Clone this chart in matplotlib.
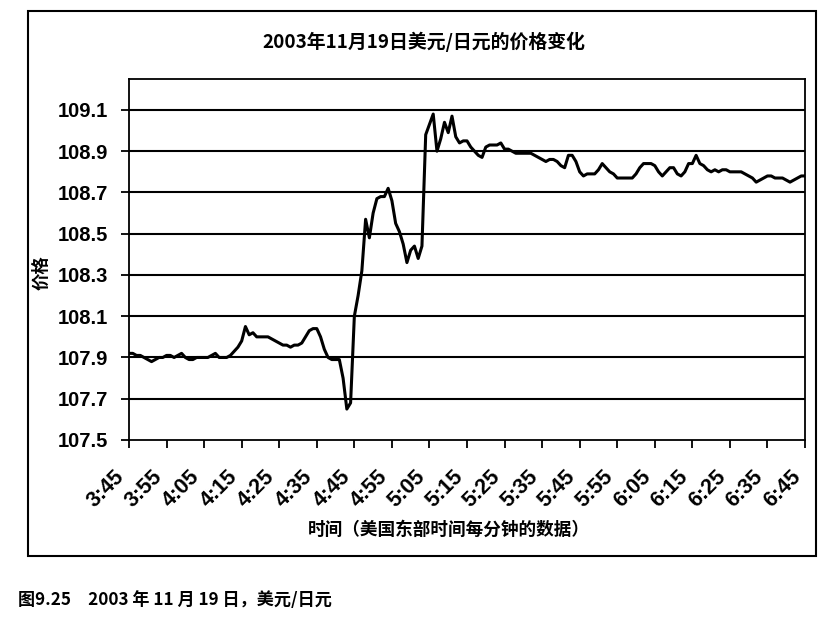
import matplotlib
matplotlib.use("Agg")
import matplotlib.pyplot as plt
from matplotlib.patches import Rectangle
import numpy as np

plt.rcParams['font.family'] = ['Noto Sans CJK SC', 'DejaVu Sans']

# ---- data (USD/JPY, one value per minute, 3:45 - 6:45) ----
price = [
    107.92, 107.92, 107.91, 107.91, 107.90, 107.89, 107.88, 107.89, 107.90, 107.90,
    107.91, 107.91, 107.90, 107.91, 107.92, 107.90, 107.89, 107.89, 107.90, 107.90,
    107.90, 107.90, 107.91, 107.92, 107.90, 107.90, 107.90, 107.91, 107.93, 107.95,
    107.98, 108.05, 108.01, 108.02, 108.00, 108.00, 108.00, 108.00, 107.99, 107.98,
    107.97, 107.96, 107.96, 107.95, 107.96, 107.96, 107.97, 108.00, 108.03, 108.04,
    108.04, 108.00, 107.94, 107.90, 107.89, 107.89, 107.89, 107.80, 107.65, 107.68,
    108.10, 108.20, 108.32, 108.57, 108.48, 108.60, 108.67, 108.68, 108.68, 108.72,
    108.66, 108.55, 108.51, 108.45, 108.36, 108.42, 108.44, 108.38, 108.44, 108.98,
    109.03, 109.08, 108.90, 108.96, 109.04, 108.99, 109.07, 108.97, 108.94, 108.95,
    108.95, 108.92, 108.90, 108.88, 108.87, 108.92, 108.93, 108.93, 108.93, 108.94,
    108.91, 108.91, 108.90, 108.89, 108.89, 108.89, 108.89, 108.89, 108.88, 108.87,
    108.86, 108.85, 108.86, 108.86, 108.85, 108.83, 108.82, 108.88, 108.88, 108.85,
    108.80, 108.78, 108.79, 108.79, 108.79, 108.81, 108.84, 108.82, 108.80, 108.79,
    108.77, 108.77, 108.77, 108.77, 108.77, 108.79, 108.82, 108.84, 108.84, 108.84,
    108.83, 108.80, 108.78, 108.80, 108.82, 108.82, 108.79, 108.78, 108.80, 108.84,
    108.84, 108.88, 108.84, 108.83, 108.81, 108.80, 108.81, 108.80, 108.81, 108.81,
    108.80, 108.80, 108.80, 108.80, 108.79, 108.78, 108.77, 108.75, 108.76, 108.77,
    108.78, 108.78, 108.77, 108.77, 108.77, 108.76, 108.75, 108.76, 108.77, 108.78,
    108.78,
]
time_labels = ["3:45", "3:55", "4:05", "4:15", "4:25", "4:35", "4:45", "4:55",
               "5:05", "5:15", "5:25", "5:35", "5:45", "5:55", "6:05", "6:15",
               "6:25", "6:35", "6:45"]
y_ticks = [107.5, 107.7, 107.9, 108.1, 108.3, 108.5, 108.7, 108.9, 109.1]

title = "2003年11月19日美元/日元的价格变化"
xlabel = "时间（美国东部时间每分钟的数据）"
ylabel = "价格"
caption = "图9.25　2003 年 11 月 19 日，美元/日元"

# ---- figure ----
fig = plt.figure(figsize=(8.35, 6.33), dpi=100)
fig.patch.set_facecolor("white")

# outer frame
fig.patches.append(Rectangle((0.0335, 0.1216), 0.9437, 0.861, transform=fig.transFigure,
                             fill=False, edgecolor="black", linewidth=1.5, zorder=0))

ax = fig.add_axes([0.1545, 0.3049, 0.8096, 0.5703])
x = np.arange(len(price))
ax.plot(x, price, color="black", linewidth=2.2, zorder=3)

ax.set_xlim(0, len(price) - 1)
ax.set_ylim(107.5, 109.25)
ax.set_yticks(y_ticks)
ax.set_yticklabels([f"{v:.1f}" for v in y_ticks],
                   fontdict={"family": "Liberation Sans", "weight": "bold", "size": 14.5})
ax.set_xticks(np.arange(0, len(price), 10))
ax.set_xticklabels(time_labels, rotation=45, ha="right",
                   fontdict={"family": "Liberation Sans", "weight": "bold", "size": 15.5})

for v in y_ticks[1:]:
    ax.axhline(v, color="black", linewidth=1.5, zorder=2)

for s in ax.spines.values():
    s.set_linewidth(1.3)
    s.set_color("black")
ax.tick_params(axis="x", direction="out", length=6, width=1.3, pad=13)
ax.tick_params(axis="y", direction="out", length=6, width=1.3, pad=9)

fig.text(0.508, 0.9336, title, ha="center", va="center", fontsize=13.6, fontweight="bold")
fig.text(0.537, 0.163, xlabel, ha="center", va="center", fontsize=12.7, fontweight="bold")
fig.text(0.050, 0.570, ylabel, ha="center", va="center", rotation=90, fontsize=12.5, fontweight="bold")
fig.text(0.0216, 0.052, caption, ha="left", va="center", fontsize=12.3, fontweight="bold")

fig.savefig("out.png", dpi=100, facecolor="white")
